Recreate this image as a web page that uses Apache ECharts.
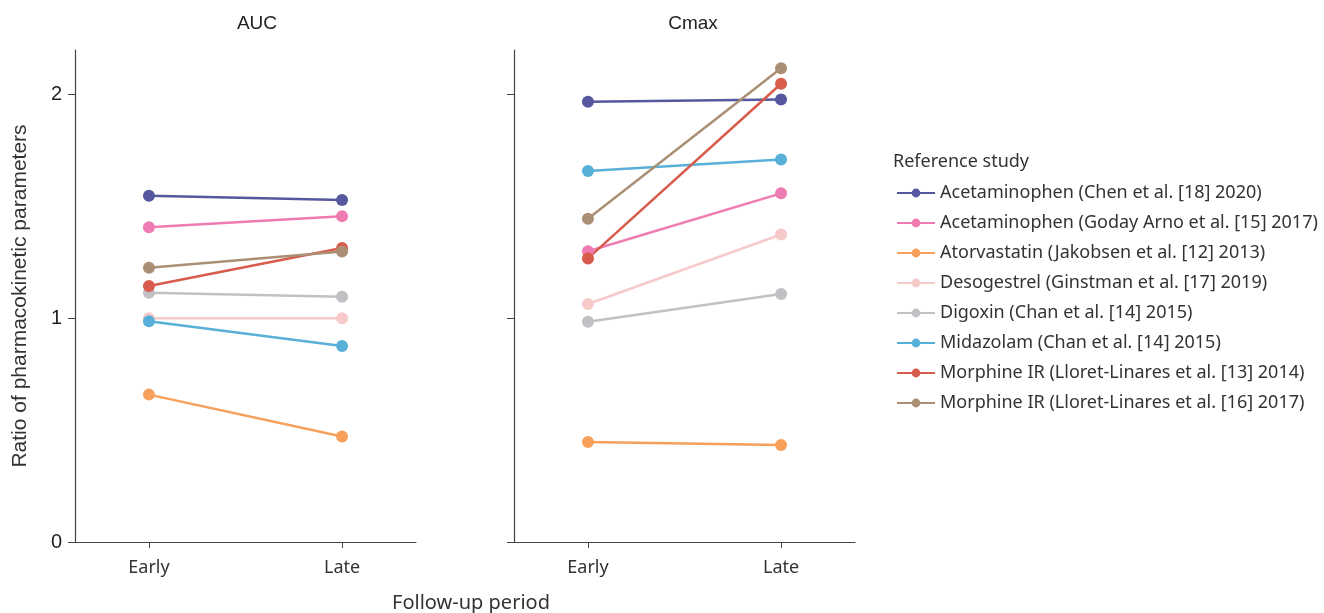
<!DOCTYPE html>
<html>
<head>
<meta charset="utf-8">
<script src="https://cdn.jsdelivr.net/npm/echarts@6/dist/echarts.min.js"></script>
<style>
  html, body { margin: 0; padding: 0; background: #fff; }
  #main { width: 1324px; height: 613px; }
</style>
</head>
<body>
<div id="main"></div>
<script>
var periods = ['Early', 'Late'];
var studies = [
    'Acetaminophen (Chen et al. [18] 2020)',
    'Acetaminophen (Goday Arno et al. [15] 2017)',
    'Atorvastatin (Jakobsen et al. [12] 2013)',
    'Desogestrel (Ginstman et al. [17] 2019)',
    'Digoxin (Chan et al. [14] 2015)',
    'Midazolam (Chan et al. [14] 2015)',
    'Morphine IR (Lloret-Linares et al. [13] 2014)',
    'Morphine IR (Lloret-Linares et al. [16] 2017)'
];
var colors = ['#56589f', '#ee7bb1', '#f6a05b', '#f7caca', '#c2c0c5', '#58b0d9', '#d85c4c', '#ab8f75'];
var aucEarly  = [1.548, 1.407, 0.659, 1.000, 1.115, 0.987, 1.145, 1.226];
var aucLate   = [1.529, 1.457, 0.472, 1.000, 1.097, 0.876, 1.315, 1.299];
var cmaxEarly = [1.969, 1.300, 0.447, 1.064, 0.985, 1.659, 1.268, 1.445];
var cmaxLate  = [1.979, 1.559, 0.434, 1.375, 1.109, 1.710, 2.049, 2.118];
var yTicks = [0, 1, 2];

var myChart = echarts.init(document.getElementById('main'));

function xAxisFor(idx) {
    return {
        type: 'value', gridIndex: idx, min: -0.383, max: 1.383,
        splitLine: { show: false },
        axisLine: { onZero: false, lineStyle: { color: '#444', width: 1.2 } },
        axisTick: { customValues: [0, 1], length: 6, lineStyle: { color: '#444' } },
        axisLabel: {
            customValues: [0, 1], margin: 17,
            formatter: function (v) { return periods[Math.round(v)]; },
            fontFamily: 'Noto Sans', fontSize: 18, color: '#333'
        }
    };
}
function yAxisFor(idx) {
    var ax = {
        type: 'value', gridIndex: idx, min: 0, max: 2.2,
        splitLine: { show: false },
        axisLine: { show: true, onZero: false, lineStyle: { color: '#444', width: 1.2 } },
        axisTick: { show: true, customValues: yTicks, length: 7, lineStyle: { color: '#444' } },
        axisLabel: {
            show: idx === 0, customValues: yTicks, margin: 13,
            fontFamily: 'Liberation Sans', fontSize: 20, color: '#222'
        }
    };
    if (idx === 0) {
        ax.name = 'Ratio of pharmacokinetic parameters';
        ax.nameLocation = 'middle';
        ax.nameGap = 44;
        ax.nameTextStyle = { fontFamily: 'Liberation Sans', fontSize: 21, color: '#333' };
    }
    return ax;
}

var series = [];
studies.forEach(function (name, i) {
    [[aucEarly, aucLate], [cmaxEarly, cmaxLate]].forEach(function (pair, g) {
        series.push({
            name: name, type: 'line',
            xAxisIndex: g, yAxisIndex: g,
            data: [[0, pair[0][i]], [1, pair[1][i]]],
            symbol: 'circle', symbolSize: 12,
            itemStyle: { color: colors[i] },
            lineStyle: { color: colors[i], width: 2.5 },
            emphasis: { disabled: true }
        });
    });
});

option = {
    animation: false,
    title: [
        { text: 'AUC', left: 252, top: 9, textAlign: 'center',
          textStyle: { fontFamily: 'Liberation Sans', fontSize: 19, fontWeight: 'normal', color: '#222' } },
        { text: 'Cmax', left: 688, top: 9, textAlign: 'center',
          textStyle: { fontFamily: 'Liberation Sans', fontSize: 19, fontWeight: 'normal', color: '#222' } },
        { text: 'Follow-up period', left: 466, top: 588, textAlign: 'center',
          textStyle: { fontFamily: 'Noto Sans', fontSize: 20, fontWeight: 'normal', color: '#333' } },
        { text: 'Reference study', left: 888, top: 148,
          textStyle: { fontFamily: 'Noto Sans', fontSize: 18, fontWeight: 'normal', color: '#333' } }
    ],
    legend: {
        orient: 'vertical', left: 891, top: 178,
        itemWidth: 38, itemHeight: 11, itemGap: 10,
        data: studies,
        textStyle: { fontFamily: 'Noto Sans', fontSize: 18, color: '#333', lineHeight: 20 }
    },
    grid: [
        { left: 75, top: 50, width: 341, height: 492 },
        { left: 514, top: 50, width: 341, height: 492 }
    ],
    xAxis: [xAxisFor(0), xAxisFor(1)],
    yAxis: [yAxisFor(0), yAxisFor(1)],
    series: series
};
myChart.setOption(option);
</script>
</body>
</html>
